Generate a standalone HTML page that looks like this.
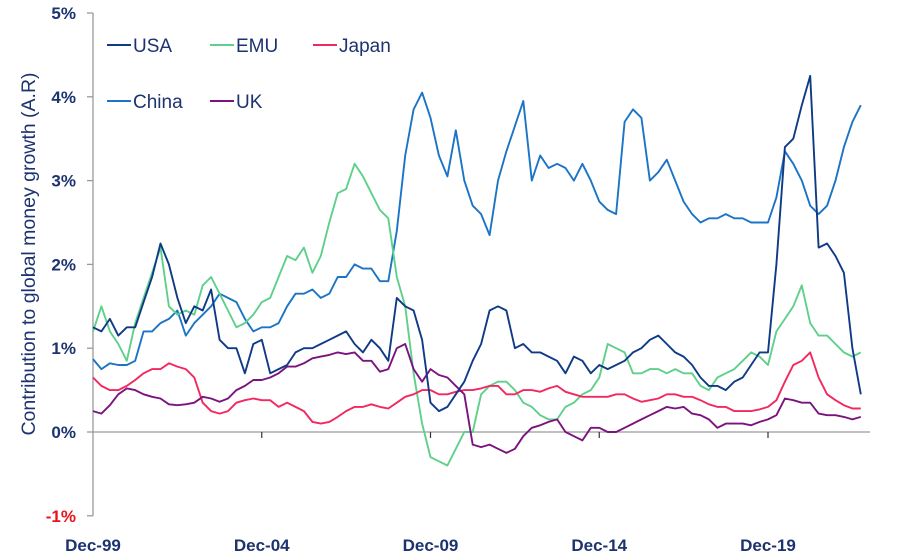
<!DOCTYPE html>
<html><head><meta charset="utf-8"><style>
html,body{margin:0;padding:0;background:#fff;}
svg{display:block;font-family:"Liberation Sans",sans-serif;}
</style></head><body>
<svg id="chart" width="915" height="556" viewBox="0 0 915 556" xmlns="http://www.w3.org/2000/svg">
<g id="axes"></g>
<g id="series"></g>
<g id="legend"></g>
<text transform="translate(35,254) rotate(-90)" text-anchor="middle" font-size="19.5" fill="#1c3370">Contribution to global money growth (A.R)</text>
</svg>
<script>
const xTickLabels = ["Dec-99","Dec-04","Dec-09","Dec-14","Dec-19"];
const yTickValues = [-1,0,1,2,3,4,5];
const quarterCount = 92;
const usa = [1.25,1.2,1.35,1.15,1.25,1.25,1.55,1.85,2.25,2.0,1.6,1.3,1.5,1.45,1.7,1.1,1.0,1.0,0.7,1.05,1.1,0.7,0.75,0.8,0.95,1.0,1.0,1.05,1.1,1.15,1.2,1.05,0.95,1.1,1.0,0.85,1.6,1.5,1.45,1.1,0.35,0.25,0.3,0.45,0.6,0.85,1.05,1.45,1.5,1.45,1.0,1.05,0.95,0.95,0.9,0.85,0.7,0.9,0.85,0.7,0.8,0.75,0.8,0.85,0.95,1.0,1.1,1.15,1.05,0.95,0.9,0.8,0.65,0.55,0.55,0.5,0.6,0.65,0.8,0.95,0.95,2.0,3.4,3.5,3.9,4.25,2.2,2.25,2.1,1.9,1.0,0.45];
const emu = [1.2,1.5,1.2,1.05,0.85,1.3,1.6,1.9,2.2,1.5,1.4,1.45,1.4,1.75,1.85,1.65,1.45,1.25,1.3,1.4,1.55,1.6,1.85,2.1,2.05,2.2,1.9,2.1,2.5,2.85,2.9,3.2,3.05,2.85,2.65,2.55,1.85,1.5,0.7,0.1,-0.3,-0.35,-0.4,-0.2,0.0,0.0,0.45,0.55,0.6,0.6,0.5,0.35,0.3,0.2,0.15,0.15,0.3,0.35,0.45,0.5,0.65,1.05,1.0,0.95,0.7,0.7,0.75,0.75,0.7,0.75,0.7,0.7,0.55,0.5,0.65,0.7,0.75,0.85,0.95,0.9,0.8,1.2,1.35,1.5,1.75,1.3,1.15,1.15,1.05,0.95,0.9,0.95];
const japan = [0.65,0.55,0.5,0.5,0.55,0.62,0.7,0.75,0.75,0.82,0.78,0.75,0.65,0.35,0.25,0.22,0.25,0.35,0.38,0.4,0.38,0.38,0.3,0.35,0.3,0.25,0.12,0.1,0.12,0.18,0.25,0.3,0.3,0.33,0.3,0.28,0.35,0.42,0.45,0.5,0.5,0.45,0.45,0.48,0.5,0.5,0.52,0.55,0.55,0.45,0.45,0.5,0.5,0.48,0.52,0.55,0.48,0.45,0.42,0.42,0.42,0.42,0.45,0.45,0.4,0.36,0.38,0.4,0.45,0.45,0.42,0.42,0.38,0.33,0.3,0.3,0.25,0.25,0.25,0.27,0.3,0.38,0.6,0.8,0.85,0.95,0.65,0.45,0.38,0.32,0.28,0.28];
const china = [0.87,0.75,0.82,0.8,0.8,0.85,1.2,1.2,1.3,1.35,1.45,1.15,1.3,1.4,1.5,1.65,1.6,1.55,1.35,1.2,1.25,1.25,1.3,1.5,1.65,1.65,1.7,1.6,1.65,1.85,1.85,2.0,1.95,1.95,1.8,1.8,2.4,3.3,3.85,4.05,3.75,3.3,3.05,3.6,3.0,2.7,2.6,2.35,3.0,3.35,3.65,3.95,3.0,3.3,3.15,3.2,3.15,3.0,3.2,3.0,2.75,2.65,2.6,3.7,3.85,3.75,3.0,3.1,3.25,3.0,2.75,2.6,2.5,2.55,2.55,2.6,2.55,2.55,2.5,2.5,2.5,2.8,3.35,3.2,3.0,2.7,2.6,2.7,3.0,3.4,3.7,3.9];
const uk = [0.25,0.22,0.32,0.45,0.52,0.5,0.45,0.42,0.4,0.33,0.32,0.33,0.35,0.42,0.4,0.36,0.4,0.5,0.55,0.62,0.62,0.65,0.7,0.78,0.78,0.82,0.88,0.9,0.92,0.95,0.93,0.95,0.85,0.85,0.72,0.75,1.0,1.05,0.75,0.6,0.75,0.68,0.65,0.55,0.45,-0.15,-0.18,-0.15,-0.2,-0.25,-0.2,-0.05,0.05,0.08,0.12,0.15,0.0,-0.05,-0.1,0.05,0.05,0.0,0.0,0.05,0.1,0.15,0.2,0.25,0.3,0.28,0.3,0.22,0.2,0.15,0.05,0.1,0.1,0.1,0.08,0.12,0.15,0.2,0.4,0.38,0.35,0.35,0.22,0.2,0.2,0.18,0.15,0.18];
const seriesNames = ["USA","EMU","Japan","China","UK"];

const NS = "http://www.w3.org/2000/svg";
const X0 = 93, PX_PER_Q = 8.4375, Y0 = 432, PX_PER_PCT = 83.8;
function xScale(q){ return X0 + q*PX_PER_Q; }
function yScale(v){ return Y0 - v*PX_PER_PCT; }
function mk(tag, attrs, parent){ const e=document.createElementNS(NS,tag); for(const k in attrs) e.setAttribute(k,attrs[k]); parent.appendChild(e); return e; }

const axes = document.getElementById('axes');
const yAxis = mk('line',{x1:X0,y1:yScale(5),x2:X0,y2:yScale(-1),stroke:'#9a9a9a','stroke-width':1.3},axes);


const xAxis = mk('line',{x1:X0,y1:Y0,x2:870,y2:Y0,stroke:'#9a9a9a','stroke-width':1.3},axes);


yTickValues.forEach(v=>{
  const t = mk('line',{x1:X0-6,y1:yScale(v),x2:X0,y2:yScale(v),stroke:'#9a9a9a','stroke-width':1.3},axes);
  
  
  const lb = mk('text',{x:76,y:yScale(v)+6,'text-anchor':'end','font-size':17,'font-weight':'bold',fill:v<0?'#e8141b':'#1c3370'},axes);
  lb.textContent = v+'%';
  
  
});
xTickLabels.forEach((s,i)=>{
  const x = xScale(i*20);
  if(i>0){
    const t = mk('line',{x1:x,y1:Y0,x2:x,y2:Y0+6,stroke:'#333','stroke-width':1.2},axes);
    
    
  }
  const lb = mk('text',{x:x,y:551,'text-anchor':'middle','font-size':17,'font-weight':'bold',fill:'#1c3370'},axes);
  lb.textContent = s;
  
  
});

const colors = {USA:'#0f3a86',EMU:'#5fd08b',Japan:'#f2285e',China:'#1b74c5',UK:'#7b137f'};
const dataMap = {USA:usa,EMU:emu,Japan:japan,China:china,UK:uk};
const drawOrder = ["China","EMU","Japan","UK","USA"];
const sg = document.getElementById('series');
drawOrder.forEach(name=>{
  const vals = dataMap[name];
  const d = vals.slice(0,quarterCount).map((v,i)=>(i?'L':'M')+xScale(i).toFixed(1)+' '+yScale(v).toFixed(1)).join(' ');
  const p = mk('path',{d:d,fill:'none',stroke:colors[name],'stroke-width':1.9,'stroke-linejoin':'round'},sg);
  
  
});

const lg = document.getElementById('legend');
const legendPos = [[107,45],[210,45],[313,45],[107,101],[210,101]];
seriesNames.forEach((name,i)=>{
  const [x,y] = legendPos[i];
  const g = mk('g',{},lg);
  
  
  mk('line',{x1:x,y1:y,x2:x+24,y2:y,stroke:colors[name],'stroke-width':2},g);
  const t = mk('text',{x:x+26,y:y+7,'font-size':19,fill:'#1c3370'},g);
  t.textContent = name;
});
</script>
</body></html>
